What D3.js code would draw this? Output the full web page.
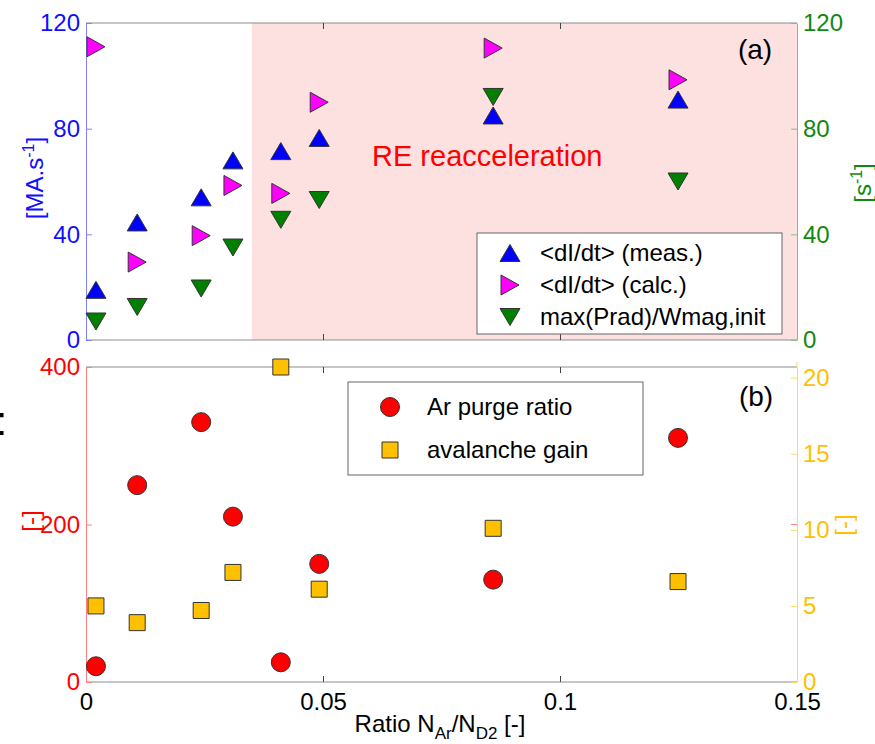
<!DOCTYPE html>
<html>
<head>
<meta charset="utf-8">
<script src="https://cdn.jsdelivr.net/npm/d3@7"></script>
<style>
body { margin: 0; background: #fff; }
svg { display: block; font-family: "Liberation Sans", Arial, Helvetica, sans-serif; }
</style>
</head>
<body>
<script>
// Ratio N_Ar / N_D2 for each discharge
var ratio = [0.0021, 0.0108, 0.0243, 0.031, 0.0411, 0.0492, 0.0859, 0.1249];

// panel (a)
var dIdtMeas = [19, 44.5, 54, 68, 71.5, 76.5, 85, 91];
var dIdtCalc = [111, 29.5, 39.5, 58.5, 55.5, 90, 110.5, 98.5];
var pradWmag = [7, 12.5, 19.5, 35, 45.5, 53, 92, 60];

// panel (b)
var arPurge = [20, 250, 330, 210, 25, 150, 130, 310];
var avalancheGain = [5, 3.9, 4.7, 7.2, 20.7, 6.1, 10.1, 6.6];

var xTicks = [0, 0.05, 0.1, 0.15];
var xTickLabels = ["0", "0.05", "0.1", "0.15"];
var yTicksA = [0, 40, 80, 120];
var yTicksB = [0, 200, 400];
var yTicksB2 = [0, 5, 10, 15, 20];
var reStart = 0.035;

var legendA = ["<dI/dt> (meas.)", "<dI/dt> (calc.)", "max(Prad)/Wmag,init"];
var legendB = ["Ar purge ratio", "avalanche gain"];

var W = 875, H = 744;
var left = 86, right = 797;
var topA = 23, botA = 340, topB = 367, botB = 682;

var svg = d3.select("body").append("svg")
	.attr("width", W)
	.attr("height", H);

var x = d3.scaleLinear().domain([0, 0.15]).range([left, right]);
var yA = d3.scaleLinear().domain([0, 120]).range([botA, topA]);
var yB = d3.scaleLinear().domain([0, 400]).range([botB, topB]);
var yB2 = d3.scaleLinear().domain([0, 20.7]).range([botB, topB]);

/*
 * Marker shapes, centred on their bounding box
 */
function triUp(w, h){ return "M0," + (-h/2) + "L" + (w/2) + "," + (h/2) + "L" + (-w/2) + "," + (h/2) + "Z"; }
function triDown(w, h){ return "M0," + (h/2) + "L" + (w/2) + "," + (-h/2) + "L" + (-w/2) + "," + (-h/2) + "Z"; }
function triRight(w, h){ return "M" + (w/2) + ",0L" + (-w/2) + "," + (-h/2) + "L" + (-w/2) + "," + (h/2) + "Z"; }
function square(s){ return "M" + (-s/2) + "," + (-s/2) + "h" + s + "v" + s + "h" + (-s) + "Z"; }
function circle(r){ return "M" + r + ",0A" + r + "," + r + " 0 1,1 " + (-r) + ",0A" + r + "," + r + " 0 1,1 " + r + ",0Z"; }

var shapeUp = triUp(20, 17), shapeRight = triRight(18, 20), shapeDown = triDown(20, 17);
var shapeCircle = circle(9.5), shapeSquare = square(16);

// RE reacceleration region
svg.append("rect")
	.attr("x", x(reStart)).attr("y", topA)
	.attr("width", x(0.15) - x(reStart)).attr("height", botA - topA)
	.attr("fill", "#fde0e0");

/*
 * Axes
 */
function styleAxis(g, color, lineColor){
	g.attr("font-size", 24).attr("font-family", null);
	g.select(".domain").attr("stroke", lineColor);
	g.selectAll(".tick line").attr("stroke", lineColor);
	g.selectAll(".tick text").attr("fill", color);
}

function frame(yTop, yBot){
	svg.append("line").attr("x1", left).attr("x2", right).attr("y1", yTop).attr("y2", yTop).attr("stroke", "#8c8c8c");
	svg.append("line").attr("x1", left).attr("x2", right).attr("y1", yBot).attr("y2", yBot).attr("stroke", "#8c8c8c");
	svg.append("g").attr("transform", "translate(0," + yBot + ")")
		.call(d3.axisBottom(x).tickValues([0.05, 0.1]).tickSize(-6).tickFormat(""))
		.call(function(g){ g.select(".domain").remove(); g.selectAll("line").attr("stroke", "#444"); });
	svg.append("g").attr("transform", "translate(0," + yTop + ")")
		.call(d3.axisTop(x).tickValues([0.05, 0.1]).tickSize(-6).tickFormat(""))
		.call(function(g){ g.select(".domain").remove(); g.selectAll("line").attr("stroke", "#444"); });
}

frame(topA, botA);
frame(topB, botB);

svg.append("g").attr("transform", "translate(" + left + ",0)")
	.call(d3.axisLeft(yA).tickValues(yTicksA).tickSize(-6).tickSizeOuter(0).tickPadding(6))
	.call(styleAxis, "#1010ff", "#8080ff");
svg.append("g").attr("transform", "translate(" + right + ",0)")
	.call(d3.axisRight(yA).tickValues(yTicksA).tickSize(-6).tickSizeOuter(0).tickPadding(6))
	.call(styleAxis, "#118811", "#80c080");

svg.append("g").attr("transform", "translate(" + left + ",0)")
	.call(d3.axisLeft(yB).tickValues(yTicksB).tickSize(-6).tickSizeOuter(0).tickPadding(6))
	.call(styleAxis, "#ff0000", "#ff8080");
svg.append("g").attr("transform", "translate(" + right + ",0)")
	.call(d3.axisRight(yB2).tickValues(yTicksB2).tickSize(-6).tickSizeOuter(0).tickPadding(6))
	.call(styleAxis, "#ffc000", "#ffd860");
// yellow axis line runs a little above the frame
svg.append("line").attr("x1", right).attr("x2", right).attr("y1", topB - 5).attr("y2", topB).attr("stroke", "#ffd860");
// red tick of the left scale shown on the right side
svg.append("line").attr("x1", right - 6).attr("x2", right).attr("y1", yB(200)).attr("y2", yB(200)).attr("stroke", "#ff8080");

// x tick labels under panel (b)
svg.append("g").attr("transform", "translate(0," + botB + ")")
	.call(d3.axisBottom(x).tickValues(xTicks).tickSize(0).tickPadding(11)
		.tickFormat(function(d, i){ return xTickLabels[i]; }))
	.call(function(g){
		g.select(".domain").remove();
		g.attr("font-size", 24).attr("font-family", null);
		g.selectAll("text").attr("fill", "#000");
	});

/*
 * Markers
 */
function drawSeries(vals, yScale, shape, fill){
	svg.append("g").selectAll("path")
		.data(vals)
		.enter().append("path")
		.attr("d", shape)
		.attr("transform", function(d, i){ return "translate(" + x(ratio[i]) + "," + yScale(d) + ")"; })
		.attr("fill", fill)
		.attr("stroke", "#333")
		.attr("stroke-width", 1);
}

drawSeries(dIdtMeas, yA, shapeUp, "#0000ff");
drawSeries(dIdtCalc, yA, shapeRight, "#ff00ff");
drawSeries(pradWmag, yA, shapeDown, "#007f00");
drawSeries(arPurge, yB, shapeCircle, "#ff0000");
drawSeries(avalancheGain, yB2, shapeSquare, "#ffc000");

/*
 * Legends
 */
svg.append("rect").attr("x", 477).attr("y", 233).attr("width", 305).attr("height", 101)
	.attr("fill", "#fff").attr("stroke", "#666");
var legA = [[shapeUp, "#0000ff"], [shapeRight, "#ff00ff"], [shapeDown, "#007f00"]];
legA.forEach(function(m, i){
	var ly = 253 + i * 32;
	svg.append("path").attr("d", m[0]).attr("transform", "translate(510," + ly + ")")
		.attr("fill", m[1]).attr("stroke", "#333");
	svg.append("text").attr("x", 540).attr("y", ly + 8).attr("font-size", 24).text(legendA[i]);
});

svg.append("rect").attr("x", 348).attr("y", 382).attr("width", 295).attr("height", 93)
	.attr("fill", "#fff").attr("stroke", "#666");
var legB = [[shapeCircle, "#ff0000"], [shapeSquare, "#ffc000"]];
legB.forEach(function(m, i){
	var ly = 407 + i * 43;
	svg.append("path").attr("d", m[0]).attr("transform", "translate(390," + ly + ")")
		.attr("fill", m[1]).attr("stroke", "#333");
	svg.append("text").attr("x", 427).attr("y", ly + 8).attr("font-size", 24).text(legendB[i]);
});

/*
 * Labels and annotations
 */
svg.append("text").attr("x", 372).attr("y", 166).attr("font-size", 29).attr("fill", "#ff0000")
	.text("RE reacceleration");
svg.append("text").attr("x", 755).attr("y", 59).attr("font-size", 28).attr("text-anchor", "middle")
	.text("(a)");
svg.append("text").attr("x", 756).attr("y", 406).attr("font-size", 28).attr("text-anchor", "middle")
	.text("(b)");
svg.append("text").attr("x", -4).attr("y", 435).attr("font-size", 40).text(":");

function unitLabel(xPos, yPos, color, base, sup, tail){
	var t = svg.append("text")
		.attr("transform", "translate(" + xPos + "," + yPos + ") rotate(-90)")
		.attr("text-anchor", "middle").attr("font-size", 24).attr("fill", color);
	t.append("tspan").text(base);
	if(sup){
		t.append("tspan").attr("dy", -9).attr("font-size", 16).text(sup);
		t.append("tspan").attr("dy", 9).text(tail);
	}
	return t;
}
unitLabel(43, 178, "#1010ff", "[MA.s", "-1", "]");
unitLabel(871, 183, "#118811", "[s", "-1", "]");
unitLabel(39, 521, "#ff0000", "[-]");
unitLabel(852, 525, "#ffc000", "[-]");

var xl = svg.append("text").attr("x", 440).attr("y", 732).attr("font-size", 24)
	.attr("text-anchor", "middle").attr("fill", "#000");
xl.append("tspan").text("Ratio N");
xl.append("tspan").attr("dy", 7).attr("font-size", 17).text("Ar");
xl.append("tspan").attr("dy", -7).text("/N");
xl.append("tspan").attr("dy", 7).attr("font-size", 17).text("D2");
xl.append("tspan").attr("dy", -7).text(" [-]");
</script>
</body>
</html>
